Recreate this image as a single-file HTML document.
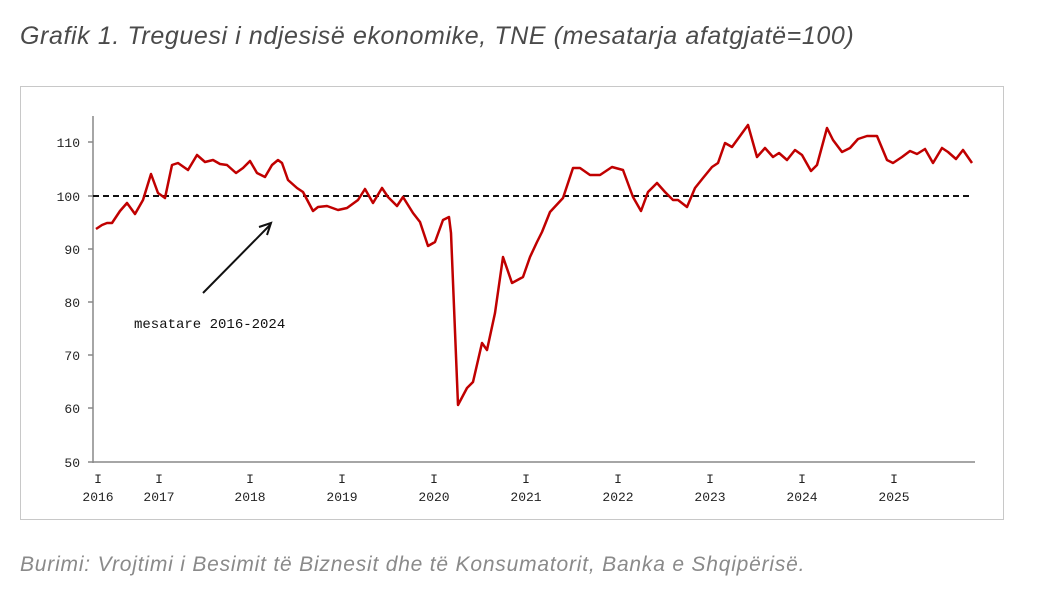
<!DOCTYPE html>
<html><head><meta charset="utf-8"><style>
body{margin:0;width:1052px;height:601px;background:#fff;overflow:hidden;font-family:"Liberation Sans",sans-serif}
.t{position:absolute;left:20px;top:22px;font-size:25px;font-style:italic;color:#4a4a4a;letter-spacing:0.6px}
.s{position:absolute;left:20px;top:553px;font-size:21px;font-style:italic;color:#8a8a8a;letter-spacing:0.8px}
.f{position:absolute;left:20px;top:86px;width:982px;height:432px;border:1px solid #c8c8c8}
svg{position:absolute;left:0;top:0}
</style></head><body>
<div class="t">Grafik 1. Treguesi i ndjesisë ekonomike, TNE (mesatarja afatgjatë=100)</div>
<div class="f"></div>
<svg width="1052" height="601" font-family="Liberation Mono, monospace" font-size="13">
<g stroke="#888" stroke-width="1.5">
<line x1="93" y1="116" x2="93" y2="463"/><line x1="93" y1="462" x2="975" y2="462"/>
<line x1="88" y1="142" x2="93" y2="142"/><line x1="88" y1="196" x2="93" y2="196"/><line x1="88" y1="249" x2="93" y2="249"/><line x1="88" y1="302" x2="93" y2="302"/><line x1="88" y1="355" x2="93" y2="355"/><line x1="88" y1="408" x2="93" y2="408"/><line x1="88" y1="462" x2="93" y2="462"/>
</g>
<g text-anchor="end" fill="#222">
<text x="80" y="147">110</text><text x="80" y="201">100</text><text x="80" y="254">90</text><text x="80" y="307">80</text><text x="80" y="360">70</text><text x="80" y="413">60</text><text x="80" y="467">50</text>
</g>
<g text-anchor="middle" fill="#222">
<text x="98" y="483">I</text><text x="98" y="501">2016</text>
<text x="159" y="483">I</text><text x="159" y="501">2017</text>
<text x="250" y="483">I</text><text x="250" y="501">2018</text>
<text x="342" y="483">I</text><text x="342" y="501">2019</text>
<text x="434" y="483">I</text><text x="434" y="501">2020</text>
<text x="526" y="483">I</text><text x="526" y="501">2021</text>
<text x="618" y="483">I</text><text x="618" y="501">2022</text>
<text x="710" y="483">I</text><text x="710" y="501">2023</text>
<text x="802" y="483">I</text><text x="802" y="501">2024</text>
<text x="894" y="483">I</text><text x="894" y="501">2025</text>
</g>
<line x1="93" y1="196" x2="973" y2="196" stroke="#111" stroke-width="2" stroke-dasharray="6,4"/>
<line x1="203" y1="293" x2="270" y2="225" stroke="#111" stroke-width="2"/>
<polyline points="259,227 271,223 267,235" fill="none" stroke="#111" stroke-width="2"/>
<text x="134" y="328" fill="#111" font-size="14">mesatare 2016-2024</text>
<polyline fill="none" stroke="#c00000" stroke-width="2.5" stroke-linejoin="round" points="96,229 102,225 107,223 112,223 120,211 127,203 135,214 143,200 151,174 158,193 165,198 172,165 178,163 188,170 197,155 205,162 213,160 220,164 227,165 236,173 243,168 250,161 257,173 265,177 272,165 278,160 282,163 288,180 297,188 303,192 313,211 318,207 327,206 338,210 347,208 358,200 365,189 373,203 382,188 388,197 397,206 403,197 413,213 420,222 428,246 435,242 443,220 449,217 451,233 458,405 467,388 473,382 482,343 487,350 495,313 503,257 512,283 523,277 530,257 537,242 542,232 550,212 563,198 573,168 580,168 590,175 600,175 612,167 623,170 633,197 641,211 648,192 657,183 665,192 673,200 678,200 687,207 695,188 703,178 712,167 718,163 725,143 732,147 748,125 757,157 765,148 773,157 779,153 787,160 795,150 802,155 811,171 817,165 827,128 833,140 842,152 850,148 858,139 867,136 877,136 887,160 893,163 902,157 910,151 917,154 925,149 933,163 942,148 948,152 956,159 963,150 972,163"/>
</svg>
<div class="s">Burimi: Vrojtimi i Besimit të Biznesit dhe të Konsumatorit, Banka e Shqipërisë.</div>
</body></html>
